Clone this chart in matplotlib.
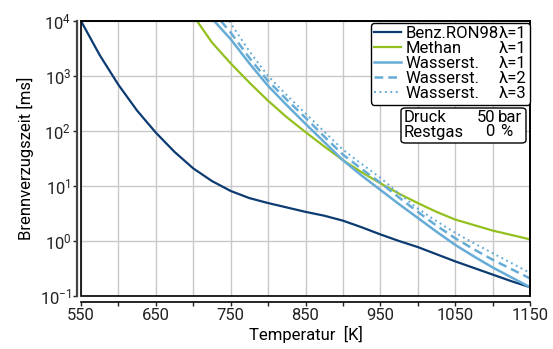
import numpy as np
import matplotlib
matplotlib.use('Agg')
import matplotlib.pyplot as plt
from matplotlib.patches import Rectangle, FancyBboxPatch
from matplotlib.ticker import NullLocator, LogLocator

plt.rcParams['font.family'] = ['Roboto', 'DejaVu Sans']
plt.rcParams['mathtext.default'] = 'regular'
plt.rcParams['axes.unicode_minus'] = False

# Brennverzugszeit (log10 ms) gegen Temperatur (K)
t_benz = [550, 575, 600, 625, 650, 675, 700, 725, 750, 775, 800, 825, 850, 875,
          900, 925, 950, 975, 1000, 1025, 1050, 1075, 1100, 1125, 1150]
lg_benz = [4.0, 3.38, 2.84, 2.37, 1.97, 1.62, 1.32, 1.09, 0.91, 0.78, 0.69, 0.61,
           0.53, 0.46, 0.37, 0.25, 0.12, 0.00, -0.11, -0.24, -0.37, -0.49, -0.61,
           -0.73, -0.84]

t_meth = [705, 725, 750, 775, 800, 825, 850, 875, 900, 925, 950, 975, 1000, 1025,
          1050, 1075, 1100, 1125, 1150]
lg_meth = [4.0, 3.61, 3.23, 2.88, 2.55, 2.25, 1.98, 1.72, 1.47, 1.25, 1.05, 0.86,
           0.69, 0.53, 0.39, 0.29, 0.19, 0.11, 0.03]

t_h2_1 = [728, 750, 775, 800, 825, 850, 875, 900, 925, 950, 975, 1000, 1025, 1050,
          1075, 1100, 1125, 1150]
lg_h2_1 = [4.0, 3.67, 3.23, 2.82, 2.47, 2.13, 1.80, 1.47, 1.19, 0.93, 0.67, 0.42,
           0.17, -0.07, -0.28, -0.48, -0.66, -0.84]

t_h2_2 = [737, 750, 775, 800, 825, 850, 875, 900, 925, 950, 975, 1000, 1025, 1050,
          1075, 1100, 1125, 1150]
lg_h2_2 = [4.0, 3.79, 3.33, 2.91, 2.57, 2.24, 1.90, 1.57, 1.31, 1.06, 0.79, 0.53,
           0.28, 0.05, -0.15, -0.34, -0.51, -0.68]

t_h2_3 = [748, 775, 800, 825, 850, 875, 900, 925, 950, 975, 1000, 1025, 1050, 1075,
          1100, 1125, 1150]
lg_h2_3 = [4.0, 3.45, 3.00, 2.65, 2.32, 1.99, 1.66, 1.40, 1.15, 0.86, 0.59, 0.36,
           0.15, -0.04, -0.22, -0.40, -0.58]

names = ['Benz.RON98', 'Methan', 'Wasserst.', 'Wasserst.', 'Wasserst.']
lambdas = ['λ=1', 'λ=1', 'λ=1', 'λ=2', 'λ=3']

c_dark = '#0c3b72'
c_green = '#93c01f'
c_light = '#67acd6'

W, H = 553, 349
fig = plt.figure(figsize=(W / 100, H / 100), dpi=100)
ax = fig.add_axes([81 / W, 1 - 296 / H, (530 - 81) / W, (296 - 21) / H])

ax.plot(t_benz, 10 ** np.array(lg_benz), color=c_dark, lw=1.6, label=names[0] + lambdas[0])
ax.plot(t_meth, 10 ** np.array(lg_meth), color=c_green, lw=1.6, label=names[1] + lambdas[1])
ax.plot(t_h2_1, 10 ** np.array(lg_h2_1), color=c_light, lw=1.8, label=names[2] + lambdas[2])
ax.plot(t_h2_2, 10 ** np.array(lg_h2_2), color=c_light, lw=1.8, ls=(0, (3.5, 2)),
        label=names[3] + lambdas[3])
ax.plot(t_h2_3, 10 ** np.array(lg_h2_3), color=c_light, lw=1.4, ls=(0, (1, 1.8)),
        label=names[4] + lambdas[4])

ax.set_yscale('log')
ax.set_xlim(550, 1150)
ax.set_ylim(1e-1, 1e4)
ax.set_xticks(np.arange(550, 1151, 100))
ax.set_xticks(np.arange(600, 1101, 100), minor=True)
ax.yaxis.set_major_locator(LogLocator(base=10, numticks=10))
ax.yaxis.set_minor_locator(NullLocator())
ax.grid(True, which='both', axis='x', color='#c8c8c8', lw=1)
ax.grid(True, which='major', axis='y', color='#c8c8c8', lw=1)
ax.set_axisbelow(True)

ax.tick_params(axis='both', which='both', labelsize=12, colors='#222222', length=3, width=1)
ax.tick_params(axis='x', pad=2)
ax.tick_params(axis='y', pad=1)

ax.spines['left'].set_position(('outward', 3))
ax.spines['bottom'].set_position(('outward', 4))
ax.spines['left'].set_color('#444444')
ax.spines['left'].set_linewidth(1.6)
ax.spines['bottom'].set_linewidth(1.2)
for s in ['top', 'right']:
    ax.spines[s].set_linewidth(1.2)
ax.add_patch(Rectangle((0, 0), 1, 1, transform=ax.transAxes, fill=False,
                       ec='black', lw=1.2, clip_on=False, zorder=5))

ax.set_xlabel('Temperatur  [K]', fontsize=12, labelpad=2)
ax.set_ylabel('Brennverzugszeit [ms]', fontsize=12, labelpad=4)

leg = ax.legend(loc='upper right', bbox_to_anchor=(530 / W, 1 - 23 / H),
                bbox_transform=fig.transFigure, fontsize=12, frameon=True,
                fancybox=True, edgecolor='black', framealpha=1,
                borderpad=0.2, labelspacing=0.0, handlelength=1.6,
                handletextpad=0.3, borderaxespad=0)
leg.get_frame().set_linewidth(1.0)

# Legende: Name links, lambda rechtsbuendig (Platzhaltertext bleibt unsichtbar)
fig.canvas.draw()
boxes = [t.get_window_extent() for t in leg.get_texts()]
x_right = max(bb.x1 for bb in boxes)
for txt, bb, nm, lam in zip(leg.get_texts(), boxes, names, lambdas):
    txt.set_alpha(0)
    fig.text(bb.x0 / W, bb.y0 / H, nm, ha='left', va='bottom', fontsize=12, zorder=12)
    fig.text(x_right / W, bb.y0 / H, lam, ha='right', va='bottom', fontsize=12, zorder=12)

# Kasten Druck / Restgas
box = FancyBboxPatch((401 / W, 1 - 143 / H), (526 - 401) / W, (143 - 108) / H,
                     boxstyle='round,pad=0,rounding_size=0.008', transform=fig.transFigure,
                     fc='white', ec='black', lw=1.0, zorder=2)
fig.patches.append(box)
fig.text(404 / W, 1 - 117 / H, 'Druck', fontsize=12, va='center', ha='left', zorder=3)
fig.text(495 / W, 1 - 117 / H, '50', fontsize=12, va='center', ha='right', zorder=3)
fig.text(498 / W, 1 - 117 / H, 'bar', fontsize=12, va='center', ha='left', zorder=3)
fig.text(404 / W, 1 - 132 / H, 'Restgas', fontsize=12, va='center', ha='left', zorder=3)
fig.text(495 / W, 1 - 132 / H, '0', fontsize=12, va='center', ha='right', zorder=3)
fig.text(500 / W, 1 - 132 / H, '%', fontsize=12, va='center', ha='left', zorder=3)

fig.savefig('out.png', dpi=100)
